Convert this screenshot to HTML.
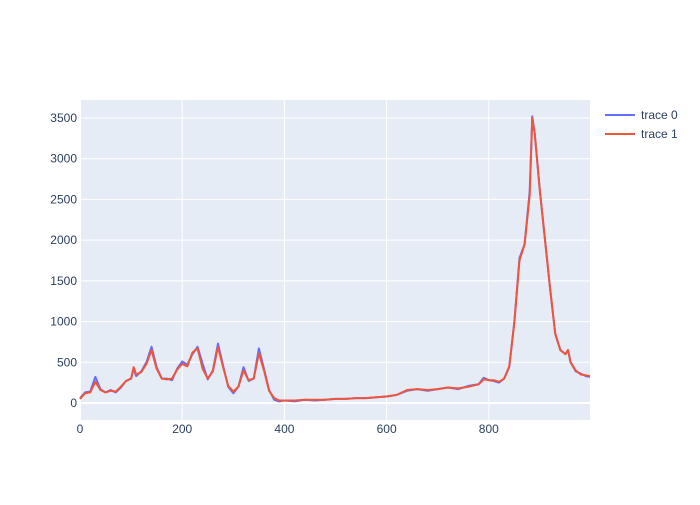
<!DOCTYPE html>
<html><head><meta charset="utf-8"><style>
body{margin:0;background:#fff;font-family:"Liberation Sans",Arial,sans-serif}
text{font-family:"Liberation Sans",Arial,sans-serif;fill:#2a3f5f;font-size:12px}
</style></head><body>
<svg id="c" width="700" height="500" xmlns="http://www.w3.org/2000/svg">
<rect x="80" y="100" width="510" height="320" fill="#e5ecf6"/>
<g id="grid"></g><g id="series"></g><g id="ticks"></g>
<g>
<line x1="605" y1="115" x2="635" y2="115" stroke="#636efa" stroke-width="2"/>
<text x="641" y="119">trace 0</text>
<line x1="605" y1="134" x2="635" y2="134" stroke="#EF553B" stroke-width="2"/>
<text x="641" y="138">trace 1</text>
</g>
</svg>
<script>
const xs=[0,10,20,30,40,50,60,70,80,90,100,105,110,120,130,140,150,160,170,180,190,200,210,220,230,240,250,260,270,280,290,300,310,320,330,340,350,360,370,380,390,400,420,440,460,480,500,520,540,560,580,600,620,640,660,680,700,720,740,760,780,790,800,810,820,830,840,850,860,870,880,885,890,900,910,920,930,940,950,955,960,970,980,990,998];
const trace0=[60,130,140,320,170,130,160,130,190,270,300,420,330,390,500,690,440,300,300,280,420,510,470,600,690,480,290,400,730,460,200,120,200,440,270,300,670,420,160,40,20,30,20,40,30,40,50,50,60,60,70,80,100,150,170,150,170,190,170,210,230,310,280,270,250,300,440,1000,1780,1950,2600,3520,3300,2600,2000,1400,850,650,600,650,500,390,360,330,320];
const trace1=[50,120,130,260,160,130,150,140,200,270,300,440,350,380,480,650,420,300,290,300,410,480,450,620,670,420,300,390,690,440,210,140,200,400,280,300,610,400,150,60,30,30,30,40,40,40,50,50,60,60,70,80,100,160,170,160,170,190,180,200,230,290,280,280,260,300,450,990,1750,1950,2550,3500,3300,2600,2000,1400,850,650,600,650,500,400,350,340,330];
const xTicks=[0,200,400,600,800];
const yTicks=[0,500,1000,1500,2000,2500,3000,3500];
const X=v=>80+v*(510/998), Y=v=>403-v*0.08143;
const ns="http://www.w3.org/2000/svg";
function mk(t,a,p){const e=document.createElementNS(ns,t);for(const k in a)e.setAttribute(k,a[k]);p.appendChild(e);return e;}
const g=document.getElementById('grid'),tk=document.getElementById('ticks'),s=document.getElementById('series');
yTicks.forEach(v=>{const l=mk('line',{x1:80,x2:590,y1:Y(v),y2:Y(v),stroke:'#fff','stroke-width':v===0?2:1},g);


const t=mk('text',{x:77,y:Y(v)+4,'text-anchor':'end'},tk);t.textContent=v;

});
xTicks.forEach(v=>{const l=mk('line',{x1:X(v),x2:X(v),y1:100,y2:420,stroke:'#fff','stroke-width':v===0?2:1},g);


const t=mk('text',{x:X(v),y:433,'text-anchor':'middle'},tk);t.textContent=v;

});
[[trace0,'#636efa','trace-0-line'],[trace1,'#EF553B','trace-1-line']].forEach(([d,c,n])=>{
const p=mk('polyline',{points:d.map((v,i)=>X(xs[i])+','+Y(v)).join(' '),fill:'none',stroke:c,'stroke-width':2,'stroke-linejoin':'round'},s);

});
</script>
</body></html>
